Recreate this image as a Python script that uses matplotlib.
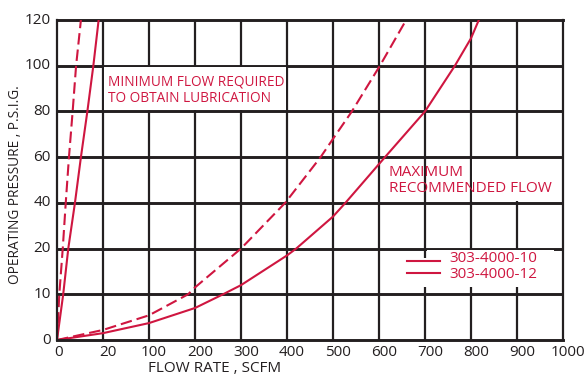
import numpy as np
import matplotlib
matplotlib.use("Agg")
import matplotlib.pyplot as plt
from matplotlib.patches import Rectangle
from matplotlib.transforms import ScaledTranslation

# ---- axis tick values (non-uniform, equally spaced on the chart) ----
x_ticks = [0, 20, 100, 200, 300, 400, 500, 600, 700, 800, 900, 1000]
y_ticks = [0, 10, 20, 40, 60, 80, 100, 120]

# ---- minimum flow required (steep curves) ----
min10_flow = [0, 1.0, 2.5, 3.8, 5.2, 6.8, 8.3, 10.4]
min10_psi = [0, 10, 20, 40, 60, 80, 100, 120]
min12_flow = [0, 2.7, 4.9, 7.8, 10.4, 13.2, 15.8, 18.1]
min12_psi = [0, 10, 20, 40, 60, 80, 100, 120]

# ---- maximum recommended flow ----
max10_flow = [0, 20, 100, 185, 200, 300, 396, 473, 500, 541, 602, 659]
max10_psi = [0, 2.2, 5.4, 10, 11.5, 20, 40, 60, 68, 80, 100, 120]
max12_flow = [0, 20, 100, 200, 261, 300, 400, 420, 500, 527, 613, 700, 765, 800, 817]
max12_psi = [0, 1.5, 3.7, 7.0, 10, 12, 18.5, 20, 34, 40, 60, 80, 100, 112, 120]

series_labels = ["303-4000-10", "303-4000-12"]

RED = '#cf1640'
INK = '#231f20'
plt.rcParams['font.family'] = ['Open Sans', 'DejaVu Sans']

W, H = 587, 377
fig = plt.figure(figsize=(W / 100, H / 100), dpi=100)
ax = fig.add_axes([57 / W, 37 / H, 506 / W, 320 / H])

xi = np.arange(len(x_ticks), dtype=float)
yi = np.arange(len(y_ticks), dtype=float)


def fx(v):
    return np.interp(v, x_ticks, xi)


def fxi(c):
    return np.interp(c, xi, x_ticks)


def fy(v):
    return np.interp(v, y_ticks, yi)


def fyi(c):
    return np.interp(c, yi, y_ticks)


ax.set_xscale('function', functions=(fx, fxi))
ax.set_yscale('function', functions=(fy, fyi))
ax.set_xlim(0, 1000)
ax.set_ylim(0, 120)
ax.set_xticks(x_ticks)
ax.set_yticks(y_ticks)
ax.set_xticklabels([str(t) for t in x_ticks])
ax.set_yticklabels([str(t) for t in y_ticks])
ax.minorticks_off()
ax.tick_params(length=0, labelsize=11, labelcolor=INK)
ax.tick_params(axis='x', pad=3.5)
ax.tick_params(axis='y', pad=4.5)
for i, lab in enumerate(ax.get_xticklabels()):
    shift = 2 if i == 0 else 5
    lab.set_transform(lab.get_transform() + ScaledTranslation(shift / 100, 0, fig.dpi_scale_trans))
for lab in ax.get_yticklabels():
    lab.set_transform(lab.get_transform() + ScaledTranslation(0, 2 / 100, fig.dpi_scale_trans))

VLW, HLW = 1.6, 2.1
for s in ('left', 'right'):
    ax.spines[s].set_linewidth(VLW)
    ax.spines[s].set_color(INK)
for s in ('top', 'bottom'):
    ax.spines[s].set_linewidth(HLW)
    ax.spines[s].set_color(INK)
ax.spines['left'].set_zorder(6)
ax.spines['bottom'].set_zorder(6)

ax.vlines(x_ticks[1:-1], 0, 120, color=INK, lw=VLW, zorder=1)
ax.hlines(y_ticks[1:-1], 0, 1000, color=INK, lw=HLW, zorder=1)

# white boxes behind annotations (in grid-cell coordinates)
cell = ax.transLimits + ax.transAxes
ix, iy = 0.03, 0.035
boxes = [
    (1 + ix, 5 + iy, 4 - 2 * ix, 1 - 2 * iy),
    (9 + ix, 3 + iy, 2 - ix, 1 - 2 * iy),
    (7.4, 1.17, 3.4, 0.63),
    (8.05, 1.17, 2.75, 0.795),
]
for bx, by, bw, bh in boxes:
    ax.add_patch(Rectangle((bx, by), bw, bh, transform=cell, facecolor='white',
                           edgecolor='none', zorder=2))

lw = 1.5
dash = (0, (5.5, 2.4))
ax.plot(min10_flow, min10_psi, color=RED, lw=lw, ls=dash, zorder=4)
ax.plot(min12_flow, min12_psi, color=RED, lw=lw, zorder=4)
ax.plot(max10_flow, max10_psi, color=RED, lw=lw, ls=dash, zorder=4)
ax.plot(max12_flow, max12_psi, color=RED, lw=lw, zorder=4)


def fpt(x, y):
    return x / W, 1 - y / H


fig.text(*fpt(108, 82), "MINIMUM FLOW REQUIRED", color=RED, fontsize=9.8, va='center', ha='left')
fig.text(*fpt(108, 99), "TO OBTAIN LUBRICATION", color=RED, fontsize=9.8, va='center', ha='left')
fig.text(*fpt(389, 173), "MAXIMUM", color=RED, fontsize=11, va='center', ha='left')
fig.text(*fpt(389, 189), "RECOMMENDED FLOW", color=RED, fontsize=11, va='center', ha='left')

# legend
for yy, lab in zip((261, 273), series_labels):
    fig.add_artist(plt.Line2D([407 / W, 440 / W], [1 - yy / H, 1 - yy / H], color=RED, lw=lw))
for yy, lab in zip((258, 275), series_labels):
    fig.text(*fpt(449, yy), lab, color=RED, fontsize=11, va='center', ha='left')

fig.text(*fpt(215, 376.5), "FLOW RATE , SCFM", color=INK, fontsize=11, ha='center', va='bottom')
fig.text(*fpt(16, 185), "OPERATING PRESSURE , P.S.I.G.", color=INK, fontsize=9.8,
         ha='center', va='center', rotation=90)

fig.savefig("out.png", dpi=100)
